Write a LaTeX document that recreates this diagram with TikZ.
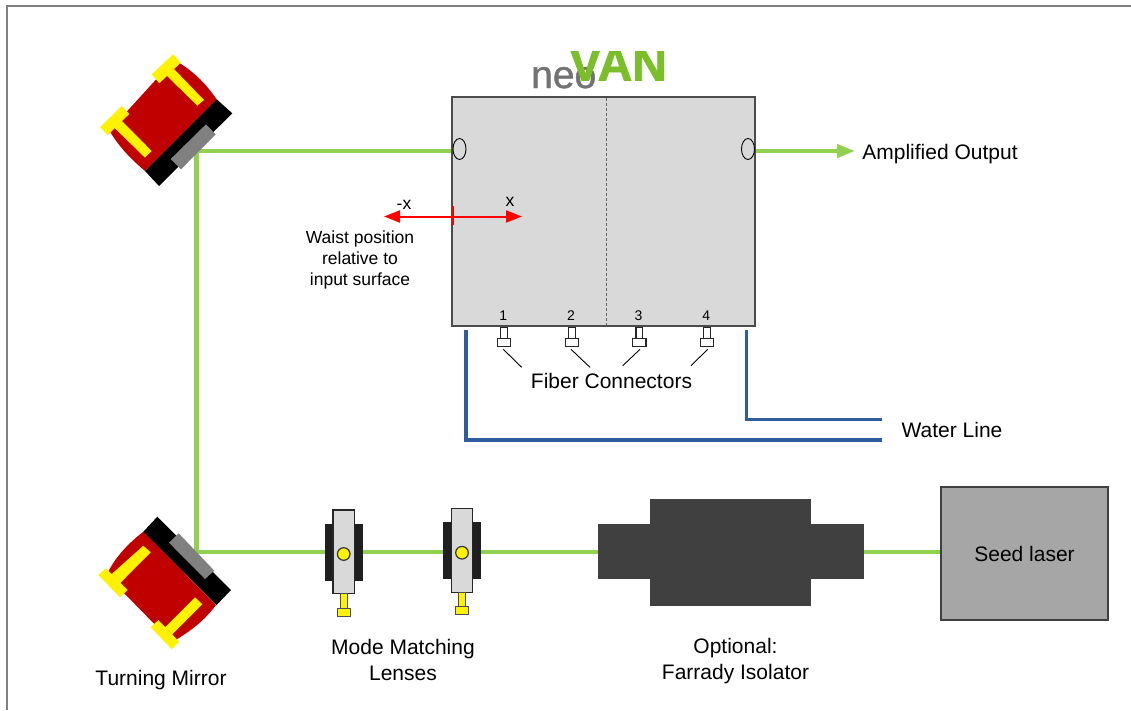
\documentclass[tikz,border=0pt]{standalone}
\usepackage{fontspec}
\setmainfont{Liberation Sans}
\newfontfamily\logoneofont[FakeBold=1.2]{Liberation Sans}
\newfontfamily\logovanfont[FakeBold=1.5]{Liberation Sans Bold}
\usetikzlibrary{arrows.meta}
\definecolor{beam}{HTML}{92D050}
\definecolor{water}{HTML}{2F5DA0}
\definecolor{boxgrey}{HTML}{D9D9D9}
\definecolor{iso}{HTML}{404040}
\definecolor{seed}{HTML}{A6A6A6}
\definecolor{mred}{HTML}{C00000}
\definecolor{logogreen}{HTML}{7ABF2A}
\tikzset{
  lbl/.style={inner sep=0pt,align=center,text=black,font=\fontsize{21}{26}\selectfont},
  small/.style={inner sep=0pt,align=center,text=black,font=\fontsize{17.5}{21}\selectfont},
  tiny/.style={inner sep=0pt,text=black,font=\fontsize{14}{16}\selectfont},
  beamline/.style={draw=beam,line width=4.2pt},
  waterline/.style={draw=water,line width=3.6pt},
  leader/.style={draw=black,line width=0.9pt},
  lensbody/.style={fill=boxgrey,draw=black!85,line width=1.2pt},
  lensclamp/.style={fill=black!88},
  pin/.style={fill=yellow,draw=black!70,line width=1pt},
  conn/.style={fill=white,draw=black!85,line width=1.1pt},
}
\begin{document}
\begin{tikzpicture}[x=1pt,y=-1pt]
\useasboundingbox (0,0) rectangle (1131,710);
\fill[white] (0,0) rectangle (1131,710);
\draw[gray,line width=2pt] (7,710) -- (7,6) -- (1131,6);

% beams
\coordinate (mtop) at (196.5,151);
\coordinate (mbot) at (196.5,552);
\coordinate (ampEnd) at (855,151);
\draw[beamline] (196.5,149) -- (mbot);
\draw[beamline] (mbot) -- (941,552);
\draw[beamline] (mtop) -- (453,151);
\draw[beam,line width=4.2pt,-{Triangle[length=18pt,width=13pt]}] (755,151) -- (ampEnd);

% top mirror
\fill[mred] (145,171) -- (216.7,99.3) .. controls (206,84) and (195,73) .. (180,63.3) -- (172,62) -- (126.7,111.7) .. controls (118,118) and (114,125) .. (110,131.7) .. controls (120,148) and (132,160) .. (145,171) -- cycle;
\fill[black] (216.7,99.3) -- (232.3,113.3) -- (159,186) -- (145,171) -- cycle;
\fill[gray] (206,124.3) -- (215.7,134.3) -- (181,169.3) -- (170.7,159) -- cycle;
\fill[yellow] (151.7,74.3) -- (173.3,54.3) -- (180.7,62.7) -- (159.3,83.3) -- cycle;
\fill[yellow] (166,75) -- (173.3,68.3) -- (204,100) -- (197.3,105.7) -- cycle;
\fill[yellow] (100,127.3) -- (121.7,106) -- (129.3,114) -- (107.7,135) -- cycle;
\fill[yellow] (114.3,127.7) -- (121.7,120.7) -- (151.7,151) -- (145,157.7) -- cycle;

% bottom mirror
\fill[mred] (143.3,531.7) -- (216,605) .. controls (205,620) and (190,632) .. (172,642) -- (123,592) -- (108.3,571.7) .. controls (116,556) and (130,542) .. (143.3,531.7) -- cycle;
\fill[black] (157.3,516.7) -- (231,590) -- (216.7,605) -- (143.3,531.7) -- cycle;
\fill[gray] (178.7,533.3) -- (214.3,570.7) -- (205,579) -- (169,542.7) -- cycle;
\fill[yellow] (98.3,575) -- (106,568.3) -- (127.7,590) -- (120,597.3) -- cycle;
\fill[yellow] (111.7,574) -- (143.3,545.7) -- (150.7,552.3) -- (120,583.3) -- cycle;
\fill[yellow] (150.7,627.3) -- (158.3,620) -- (179.3,641.7) -- (171.7,649) -- cycle;
\fill[yellow] (165,627.3) -- (195,597.3) -- (202.3,604.3) -- (172.3,634.3) -- cycle;

% lenses
\fill[lensclamp] (325,524) rectangle (363,581);
\draw[lensbody] (333,510) rectangle (354.3,593.7);
\draw[pin] (340.3,593.7) rectangle (347.3,608);
\draw[pin] (337,608) rectangle (350.7,616);
\draw[fill=yellow,draw=black!80,line width=1.2pt] (343.7,554) circle (6.3);
\fill[lensclamp] (443,522) rectangle (481,579);
\draw[lensbody] (451.3,508.7) rectangle (472.7,592.3);
\draw[pin] (458.7,592.3) rectangle (465.7,606.7);
\draw[pin] (455.3,606.7) rectangle (468.7,614.3);
\draw[fill=yellow,draw=black!80,line width=1.2pt] (462,552.7) circle (6.3);

% isolator
\fill[iso] (598,524) rectangle (864,579);
\fill[iso] (650,499) rectangle (811,606);

% seed laser
\node[draw=black!75,fill=seed,line width=1.2pt,minimum width=167pt,minimum height=133pt,inner sep=0pt,
  font=\fontsize{21}{23}\selectfont] (seedlaser) at (1024.5,553.5) {Seed laser};

% logo
\begin{scope}
\clip (500,51) rectangle (700,96);
\node[inner sep=0pt,anchor=base west,text=black!55,font=\logoneofont\fontsize{39}{39}\selectfont] (logoneo) at (531,88) {neo};
\node[inner sep=0pt,anchor=base west,text=logogreen,font=\logovanfont\fontsize{48}{48}\selectfont] (logovan) at (569,80.5) {VAN};
\end{scope}

% amplifier box
\draw[fill=boxgrey,draw=black!70,line width=1.3pt] (452,97) rectangle (755,326);
\draw[black!60,line width=0.9pt,dash pattern=on 3pt off 2pt] (606.5,98) -- (606.5,325);
\draw[black,fill=boxgrey,line width=0.9pt] (459.5,149) ellipse (6.5 and 10.5);
\draw[black,fill=boxgrey,line width=0.9pt] (748,149) ellipse (6.5 and 10.5);

% waist arrows
\coordinate (waistL) at (384,216.5);
\coordinate (waistR) at (522,216.5);
\draw[red,line width=2pt,{Triangle[length=16pt,width=12pt]}-{Triangle[length=16pt,width=12pt]}] (waistL) -- (waistR);
\draw[red,line width=2pt] (452.5,206) -- (452.5,225);
\node[small] (lminus) at (404,204.5) {-x};
\node[small] (lplus) at (510,202) {x};
\node[small] (lwaist) at (360,259.5) {Waist position\\relative to\\input surface};

% water lines
\draw[waterline] (466,330) -- (466,440) -- (882,440);
\draw[waterline] (746.5,330) -- (746.5,419.5) -- (882,419.5);

% fibre connectors
\foreach \n/\x/\lab in {1/504/1,2/571.8/2,3/639.3/3,4/707/4}{
  \draw[conn] (\x-3.3,327.7) rectangle (\x+3.3,338.3);
  \node[conn,minimum width=13.3pt,minimum height=8pt,inner sep=0pt] (fc\n) at (\x,342.3) {};
  \node[tiny] (fn\n) at (\x-0.8,316) {\lab};
}
\node[lbl] (fiber) at (611.5,381) {Fiber Connectors};
\coordinate (l1) at (521.7,367.3);
\coordinate (l2) at (590,367.3);
\coordinate (l3) at (622.7,365.7);
\coordinate (l4) at (691,365.7);
\draw[leader] (503.3,349.3) -- (l1);
\draw[leader] (571,349.3) -- (l2);
\draw[leader] (640,349.3) -- (l3);
\draw[leader] (707.7,349.3) -- (l4);

% labels
\node[lbl] (amp) at (940,154) {Amplified Output};
\node[lbl] (wl) at (952,430) {Water Line};
\node[lbl] (tm) at (161,680) {Turning Mirror};
\node[lbl] (mm) at (403,660) {Mode Matching\\Lenses};
\node[lbl] (fi) at (735.5,661.5) {Optional:\\Farrady Isolator};
\end{tikzpicture}
\end{document}
